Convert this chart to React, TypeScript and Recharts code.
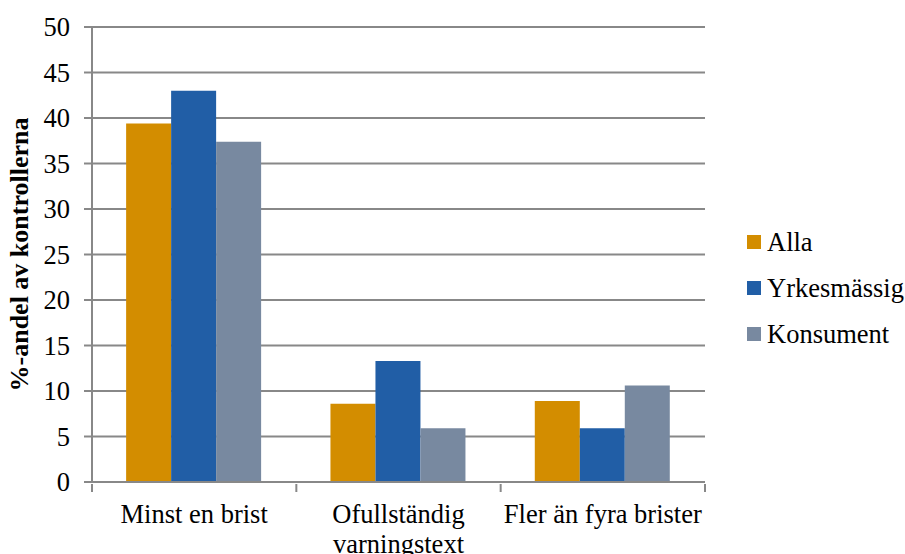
import { BarChart, Bar, XAxis, YAxis, CartesianGrid } from "recharts";

const categories = ["Minst en brist", "Ofullständig varningstext", "Fler än fyra brister"];
const alla = [39.4, 8.6, 8.9];
const yrkesmassig = [43.0, 13.3, 5.9];
const konsument = [37.4, 5.9, 10.6];
const yTicks = [0, 5, 10, 15, 20, 25, 30, 35, 40, 45, 50];

const series = [
  { key: "Alla", color: "#D38D00" },
  { key: "Yrkesmässig", color: "#215EA6" },
  { key: "Konsument", color: "#7889A0" },
];

const data = categories.map((name, i) => ({
  name,
  Alla: alla[i],
  Yrkesmässig: yrkesmassig[i],
  Konsument: konsument[i],
}));

const W = 905;
const H = 554;
const margin = { top: 27, right: 200, left: 0, bottom: 0 };
const yAxisWidth = 92;
const band = (W - margin.right - yAxisWidth - margin.left) / categories.length;
const font = "'Liberation Serif', 'Times New Roman', serif";

function XTick(props: any) {
  const { x, y, payload, index } = props;
  const words: string[] =
    payload.value === "Ofullständig varningstext" ? ["Ofullständig", "varningstext"] : [payload.value];
  return (
    <g>
      <line x1={x - band / 2} x2={x - band / 2} y1={y - 8} y2={y} stroke="#888" strokeWidth={2} />
      {index === categories.length - 1 && (
        <line x1={x + band / 2} x2={x + band / 2} y1={y - 8} y2={y} stroke="#888" strokeWidth={2} />
      )}
      {words.map((w, i) => (
        <text
          key={i}
          x={x}
          y={y + 31 + i * 30}
          textAnchor="middle"
          fontSize={26.5}
          fontFamily={font}
          fill="#000"
        >
          {w}
        </text>
      ))}
    </g>
  );
}

function LegendBox() {
  return (
    <div style={{ position: "absolute", left: 747, top: 219, fontFamily: font, fontSize: 26.5, color: "#000", lineHeight: 1 }}>
      {series.map((s) => (
        <div key={s.key} style={{ display: "flex", alignItems: "center", height: 46 }}>
          <span style={{ width: 14, height: 14, background: s.color, marginRight: 6, display: "inline-block" }} />
          <span>{s.key}</span>
        </div>
      ))}
    </div>
  );
}

export default function App() {
  return (
    <div style={{ position: "absolute", left: 0, top: 0, width: W, height: H, background: "#fff" }}>
      <BarChart width={W} height={H} data={data} margin={margin} barCategoryGap="16.7%" barGap={0}>
        <CartesianGrid vertical={false} stroke="#888" strokeWidth={2} />
        <XAxis
          dataKey="name"
          height={H - 482}
          tick={<XTick />}
          tickSize={8}
          tickLine={false}
          axisLine={{ stroke: "#888", strokeWidth: 2 }}
          interval={0}
        />
        <YAxis
          width={yAxisWidth}
          domain={[0, 50]}
          ticks={yTicks}
          interval={0}
          tickSize={8}
          tickMargin={14}
          tickLine={{ stroke: "#888", strokeWidth: 2 }}
          axisLine={{ stroke: "#888", strokeWidth: 2 }}
          tick={{ fontSize: 26.5, fontFamily: font, fill: "#000" }}
          label={{
            value: "%-andel av kontrollerna",
            angle: -90,
            position: "insideLeft",
            dx: 14,
            style: { textAnchor: "middle", fontSize: 26, fontWeight: "bold", fontFamily: font, fill: "#000" },
          }}
        />
        {series.map((s) => (
          <Bar key={s.key} dataKey={s.key} fill={s.color} isAnimationActive={false} />
        ))}
      </BarChart>
      <LegendBox />
    </div>
  );
}
